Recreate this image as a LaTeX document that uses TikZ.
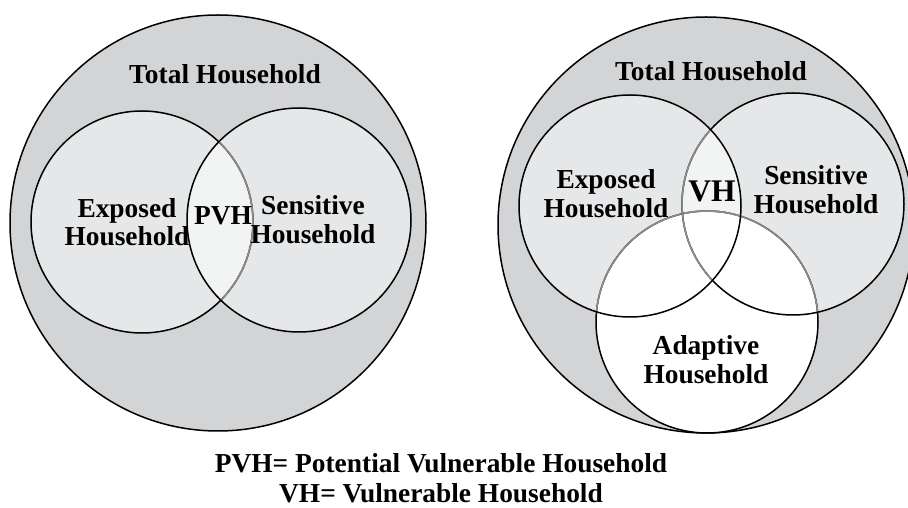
\documentclass[tikz,border=0pt]{standalone}
\usepackage{fontspec}
\setmainfont{Liberation Serif}

\definecolor{outergray}{RGB}{211,212,214}
\definecolor{setgray}{RGB}{230,231,232}
\definecolor{lensgray}{RGB}{242,243,243}
\definecolor{rimgray}{RGB}{140,140,140}

\begin{document}
\begin{tikzpicture}[
    x=1pt, y=1pt,
    totalset/.style={fill=outergray, draw=black, line width=1.5pt},
    setfill/.style={fill=setgray},
    lensfill/.style={fill=lensgray},
    rim/.style={draw=black, line width=1.5pt},
    softrim/.style={draw=rimgray, line width=1.5pt},
    txt/.style={font=\fontsize{27.4}{28.5}\selectfont\bfseries, align=center, inner sep=0pt},
    bigtxt/.style={font=\fontsize{31.5}{33}\selectfont\bfseries, inner sep=0pt}
]
\useasboundingbox (0,0) rectangle (908,508);

% Left diagram
\coordinate (ltot) at (218,285);
\coordinate (lexp) at (142,286);
\coordinate (lsen) at (299,288);

\filldraw [totalset] (ltot) circle [radius=208];
\fill [setfill] (lexp) circle [radius=111];
\fill [setfill] (lsen) circle [radius=112];
\begin{scope}
  \clip (lexp) circle [radius=111];
  \fill [lensfill] (lsen) circle [radius=112];
\end{scope}
\draw [rim] (lexp) circle [radius=111];
\begin{scope}
  \clip (lsen) circle [radius=112];
  \draw [softrim] (lexp) circle [radius=111];
\end{scope}
\draw [rim] (lsen) circle [radius=112];

\node [txt] (ltotal) at (225,434) {Total Household};
\node [txt] (lexposed) at (127,286) {Exposed\\Household};
\node [txt] (pvh) at (223,292) {PVH};
\node [txt] (lsensitive) at (313,288.5) {Sensitive\\Household};

% Right diagram
\coordinate (rtot) at (706,283);
\coordinate (rexp) at (630,302);
\coordinate (rsen) at (793,304);
\coordinate (radp) at (707,186);

\filldraw [totalset] (rtot) circle [radius=208];
\fill [setfill] (rexp) circle [radius=111];
\fill [setfill] (rsen) circle [radius=111];
\begin{scope}
  \clip (rexp) circle [radius=111];
  \fill [lensfill] (rsen) circle [radius=111];
\end{scope}
\fill [white] (radp) circle [radius=111];

% Rims, grey where they run inside another set
\draw [rim] (radp) circle [radius=111];
\begin{scope}
  \clip (rexp) circle [radius=111];
  \draw [softrim] (radp) circle [radius=111];
\end{scope}
\begin{scope}
  \clip (rsen) circle [radius=111];
  \draw [softrim] (radp) circle [radius=111];
\end{scope}
\draw [rim] (rsen) circle [radius=111];
\begin{scope}
  \clip (rexp) circle [radius=111];
  \draw [softrim] (rsen) circle [radius=111];
\end{scope}
\draw [rim] (rexp) circle [radius=111];

\node [txt] (rtotal) at (711,437) {Total Household};
\node [txt] (rexposed) at (606,314.5) {Exposed\\Household};
\node [bigtxt] (vh) at (712,317) {VH};
\node [txt] (rsensitive) at (816,318.5) {Sensitive\\Household};
\node [txt] (adaptive) at (706,148.5) {Adaptive\\Household};

% Legend
\node [txt, font=\fontsize{27.4}{30}\selectfont\bfseries] (legend) at (441,29.5)
  {PVH= Potential Vulnerable Household\\VH= Vulnerable Household};

\end{tikzpicture}
\end{document}
